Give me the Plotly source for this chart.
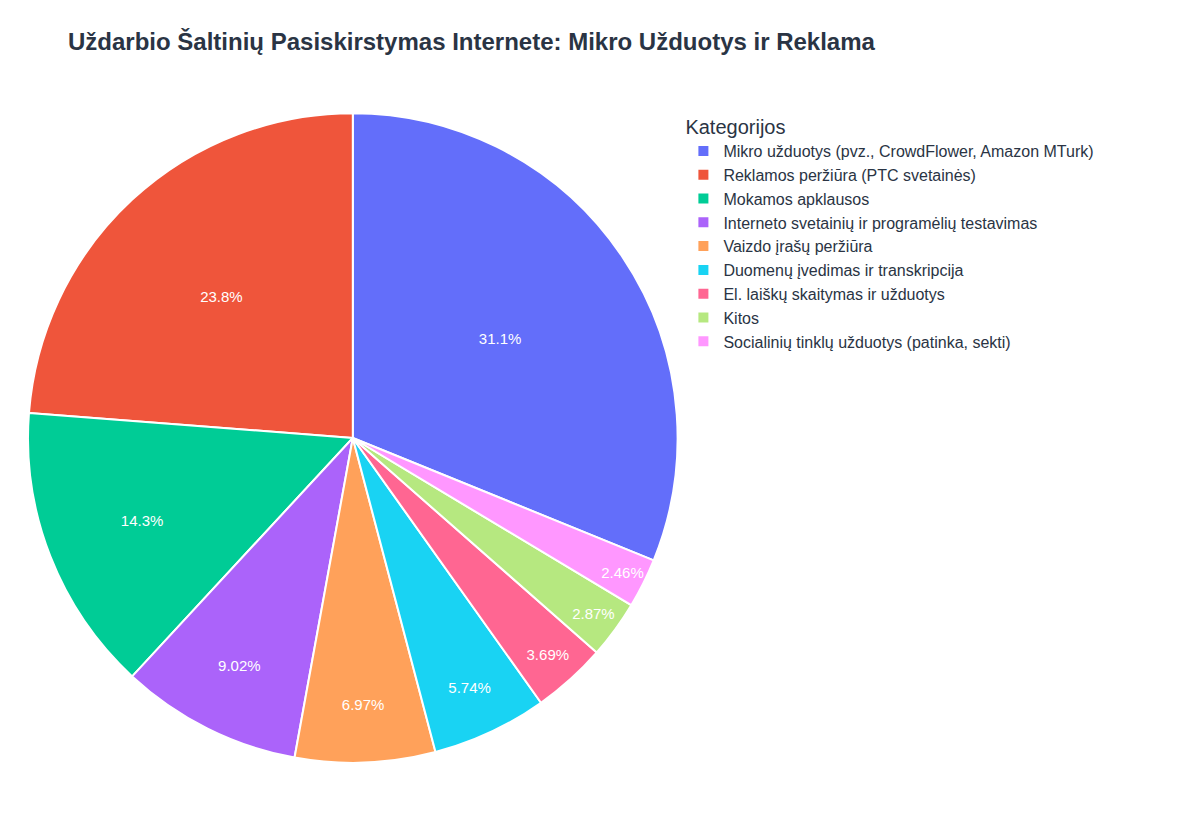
import plotly.graph_objects as go

categories = [
    "Mikro užduotys (pvz., CrowdFlower, Amazon MTurk)",
    "Reklamos peržiūra (PTC svetainės)",
    "Mokamos apklausos",
    "Interneto svetainių ir programėlių testavimas",
    "Vaizdo įrašų peržiūra",
    "Duomenų įvedimas ir transkripcija",
    "El. laiškų skaitymas ir užduotys",
    "Kitos",
    "Socialinių tinklų užduotys (patinka, sekti)",
]
values = [76, 58, 35, 22, 17, 14, 9, 7, 6]

fig = go.Figure(go.Pie(
    labels=categories,
    values=values,
    textinfo="percent",
    textfont=dict(size=15, color="white"),
    marker=dict(line=dict(color="white", width=2)),
))

fig.update_layout(
    width=1200, height=840,
    title=dict(text="<b>Uždarbio Šaltinių Pasiskirstymas Internete: Mikro Užduotys ir Reklama</b>",
               x=0.05, y=0.97, font=dict(size=24, color="#2a3444")),
    legend=dict(title=dict(text="Kategorijos", font=dict(size=20)),
                font=dict(size=16, color="#2a3444"), x=0.565, y=1.0, yanchor="top"),
    font=dict(family="Arial"),
    margin=dict(l=20, r=20, t=100, b=80),
    paper_bgcolor="white",
)
fig.update_traces(domain=dict(x=[0.0, 0.56], y=[0.0, 1.0]))

fig.write_html("out.html")
